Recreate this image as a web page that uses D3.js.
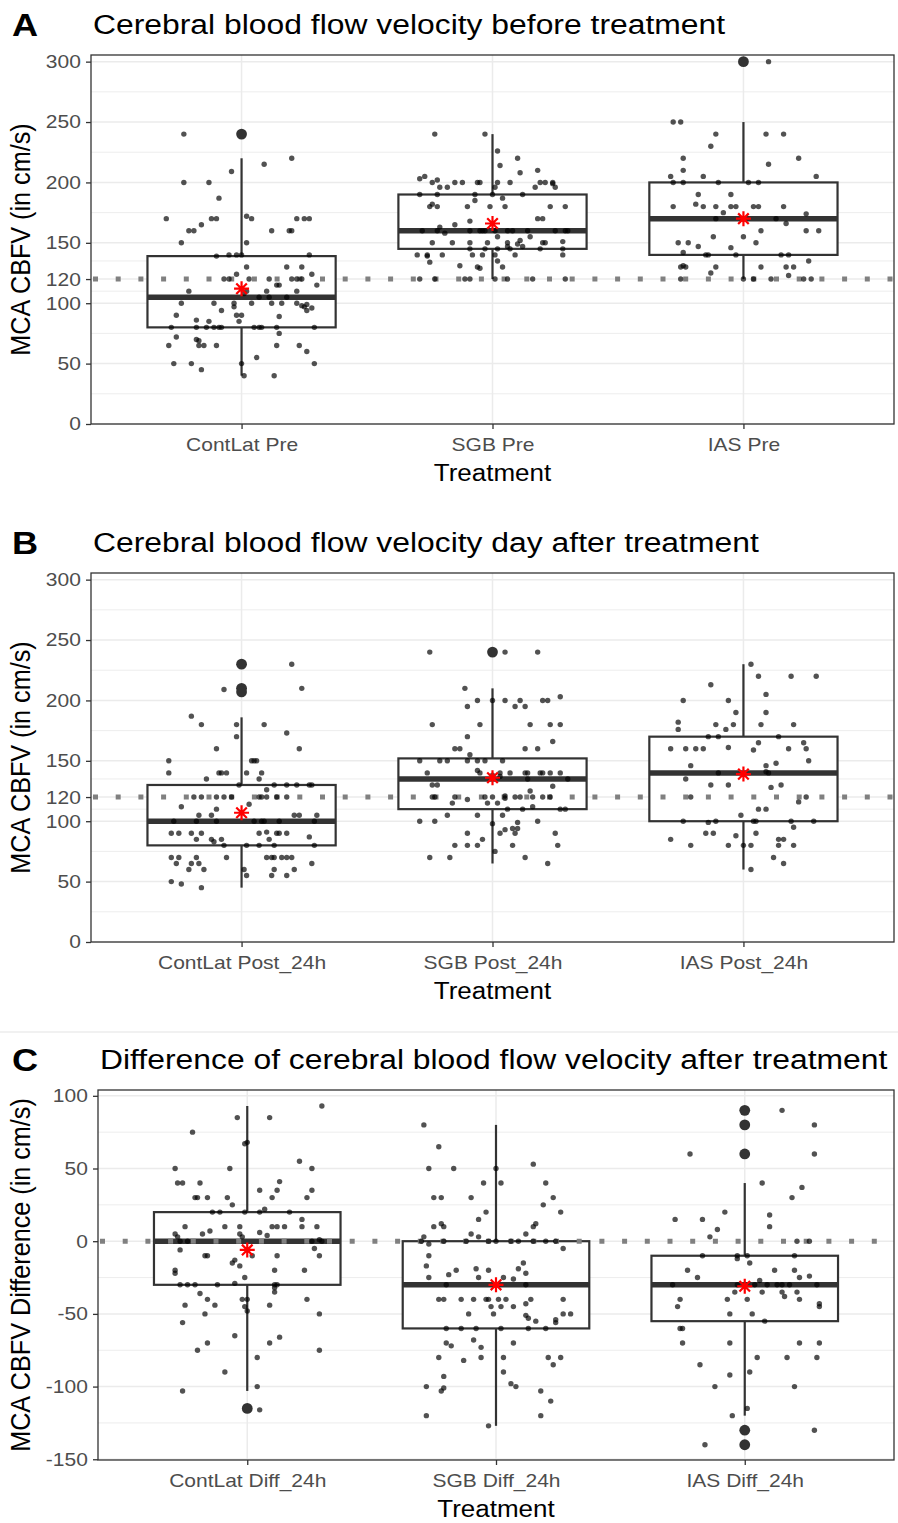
<!DOCTYPE html>
<html>
<head>
<meta charset="utf-8">
<script src="https://cdn.jsdelivr.net/npm/d3@7"></script>
<style>
  body { margin: 0; background: #fff; }
</style>
</head>
<body>
<div id="container"></div>
<script>
const WIDTH = 898;
const HEIGHT = 1523;
const FONT = '"Liberation Sans", Arial, Helvetica, sans-serif';
const STRETCH = 1.13; // the reference text is drawn a bit wide

// ---- data ----
const TAGS = ['A', 'B', 'C'];
const TITLES = [
  'Cerebral blood flow velocity before treatment',
  'Cerebral blood flow velocity day after treatment',
  'Difference of cerebral blood flow velocity after treatment'
];
const Y_TITLES = ['MCA CBFV (in cm/s)', 'MCA CBFV (in cm/s)', 'MCA CBFV Difference (in cm/s)'];
const X_TITLE = 'Treatment';

const CATS_A = ['ContLat Pre', 'SGB Pre', 'IAS Pre'];
const CATS_B = ['ContLat Post_24h', 'SGB Post_24h', 'IAS Post_24h'];
const CATS_C = ['ContLat Diff_24h', 'SGB Diff_24h', 'IAS Diff_24h'];

const TICKS_AB = [0, 50, 100, 120, 150, 200, 250, 300];
const MINOR_AB = [25, 75, 110, 135, 175, 225, 275];
const TICKS_C = [-150, -100, -50, 0, 50, 100];
const MINOR_C = [-125, -75, -25, 25, 75];
const REF_LINES = [120, 120, 0];

// box stats: [lower whisker, Q1, median, Q3, upper whisker]
const BOX_A = [[40, 80, 105, 139, 220], [120, 145, 160, 190, 240], [120, 140, 170, 200, 250]];
const BOX_B = [[45, 80, 100, 130, 186], [65, 110, 135, 152, 210], [60, 100, 140, 170, 230]];
const BOX_C = [[-103, -30, 0, 20, 93], [-127, -60, -30, 0, 80], [-120, -55, -30, -10, 40]];
const MEAN_A = [112, 166, 170];
const MEAN_B = [107, 136, 139];
const MEAN_C = [-6, -30, -31];
const OUTLIERS_A = [[240], [], [300]];
const OUTLIERS_B = [[230, 210, 207], [240], []];
const OUTLIERS_C = [[-115], [], [90, 80, 60, -130, -140]];

// jittered observations: [jitter (category units), value]
const PTS_A1 = [[-0.23,240],[0.20,220],[0.09,215],[-0.04,209],[-0.23,200],[-0.13,200],[-0.09,187],[-0.30,170],[-0.12,170],[-0.10,170],[0.02,172],[0.04,170],[0.22,170],[0.25,170],[0.27,170],[-0.16,165],[-0.21,160],[-0.19,160],[0.12,160],[0.19,160],[0.20,160],[-0.24,150],[0.02,150],[-0.10,139],[-0.05,140],[-0.02,140],[0.00,140],[0.27,140],[0.02,130],[0.18,130],[0.24,130],[-0.02,124],[0.28,124],[-0.07,120],[-0.05,120],[0.03,120],[0.11,120],[0.20,120],[0.22,120],[0.24,120],[0.14,115],[0.15,115],[0.30,115],[-0.21,110],[0.10,110],[0.22,110],[0.02,110],[0.01,108],[0.07,105],[0.11,105],[0.18,105],[-0.24,100],[-0.11,100],[-0.03,100],[0.04,100],[0.12,100],[0.16,100],[0.22,100],[0.24,98],[0.26,99],[0.25,97],[0.28,96],[0.26,94],[-0.03,97],[-0.08,94],[-0.02,90],[0.00,90],[-0.26,90],[0.15,89],[-0.18,86],[-0.13,85],[-0.01,85],[-0.28,80],[-0.18,80],[-0.14,80],[-0.11,80],[-0.09,80],[-0.08,80],[0.05,80],[0.07,80],[0.08,80],[0.14,80],[0.29,80],[0.15,75],[-0.26,72],[-0.18,70],[-0.17,69],[-0.29,65],[-0.17,65],[-0.15,65],[-0.10,65],[0.14,65],[0.23,65],[0.26,60],[0.06,55],[-0.27,50],[-0.20,50],[0.29,50],[0.00,50],[-0.16,45],[0.01,40],[0.13,40]];
const PTS_A2 = [[-0.23,240],[-0.03,240],[0.02,226],[0.10,220],[0.03,214],[0.18,210],[0.11,208],[-0.29,203],[-0.27,205],[-0.24,200],[-0.22,202],[-0.15,200],[-0.12,200],[-0.06,200],[-0.05,200],[0.02,200],[0.07,200],[0.19,200],[0.21,200],[0.24,200],[0.24,199],[-0.21,196],[-0.18,196],[0.01,196],[0.17,196],[0.25,196],[-0.29,190],[-0.22,190],[-0.07,190],[0.00,190],[0.12,190],[0.04,187],[-0.07,185],[-0.24,182],[-0.25,180],[-0.22,180],[-0.10,180],[-0.01,180],[0.05,180],[0.23,180],[0.29,180],[0.18,170],[0.20,170],[-0.09,168],[-0.15,165],[-0.21,163],[-0.28,160],[-0.22,160],[-0.19,158],[-0.09,160],[-0.05,160],[-0.04,160],[-0.03,160],[0.01,160],[0.06,160],[0.08,160],[0.14,160],[0.25,160],[0.29,160],[0.30,160],[0.02,155],[0.15,155],[-0.24,150],[-0.16,150],[-0.09,150],[-0.02,150],[0.06,150],[0.11,152],[0.10,149],[0.12,147],[0.20,150],[0.21,150],[0.28,151],[0.06,147],[0.07,145],[-0.09,145],[-0.03,145],[0.02,145],[0.19,145],[0.28,145],[-0.30,140],[-0.26,140],[-0.26,139],[-0.20,140],[-0.08,140],[-0.04,140],[0.01,140],[0.09,140],[0.28,140],[0.02,135],[-0.25,134],[-0.13,131],[-0.06,130],[-0.05,129],[0.04,130],[-0.29,120],[-0.23,120],[-0.11,120],[-0.09,120],[0.01,120],[0.06,120],[0.16,120],[0.29,120]];
const PTS_A3 = [[0.10,300],[-0.28,250],[-0.25,250],[-0.11,240],[0.09,240],[0.16,240],[-0.13,230],[-0.24,220],[0.22,220],[0.10,215],[-0.24,210],[-0.29,205],[-0.16,205],[0.29,205],[-0.28,200],[-0.24,200],[-0.10,200],[0.02,200],[0.06,200],[-0.18,190],[-0.05,190],[-0.28,180],[-0.19,182],[-0.16,180],[-0.11,180],[-0.05,180],[-0.03,180],[0.04,180],[0.06,180],[0.16,180],[-0.08,175],[0.25,174],[-0.11,170],[0.00,170],[0.13,170],[0.17,166],[0.07,160],[0.25,160],[0.30,160],[-0.12,155],[0.00,155],[-0.26,150],[-0.22,150],[-0.18,147],[0.05,150],[-0.24,142],[-0.05,146],[-0.15,140],[-0.14,140],[-0.03,140],[0.15,140],[0.18,140],[0.26,135],[-0.25,130],[-0.23,130],[-0.24,131],[-0.11,130],[0.07,130],[0.17,130],[0.20,130],[-0.13,125],[0.18,123],[-0.25,120],[0.00,120],[0.04,120],[0.11,120],[0.24,120],[0.27,120]];
const PTS_B1 = [[0.20,230],[0.24,210],[-0.07,209],[-0.20,187],[-0.16,180],[-0.02,180],[0.09,180],[0.18,173],[-0.02,170],[-0.10,160],[0.23,160],[-0.29,150],[0.04,150],[0.05,150],[0.06,150],[-0.29,140],[-0.09,140],[-0.08,140],[-0.06,140],[0.02,140],[0.08,140],[-0.14,135],[0.07,135],[-0.01,130],[0.13,130],[0.18,130],[0.22,130],[0.27,130],[0.28,130],[0.10,126],[-0.19,120],[-0.16,120],[-0.10,120],[-0.07,120],[-0.04,120],[0.07,120],[0.08,120],[0.10,120],[0.14,120],[0.18,120],[0.03,114],[-0.24,112],[-0.10,110],[-0.17,105],[-0.12,105],[0.21,105],[0.23,105],[0.30,105],[-0.27,100],[-0.18,100],[-0.10,100],[0.05,100],[0.08,100],[0.09,100],[0.15,100],[0.29,100],[-0.28,90],[-0.25,90],[-0.20,90],[-0.16,90],[0.07,90],[0.10,91],[0.14,90],[0.15,90],[0.18,90],[-0.18,85],[-0.12,85],[-0.08,85],[0.11,85],[0.27,87],[-0.11,83],[-0.07,80],[0.02,80],[0.07,80],[0.13,80],[0.29,80],[-0.28,70],[-0.25,70],[-0.18,70],[-0.06,70],[0.10,70],[0.12,70],[0.13,70],[0.16,70],[0.18,70],[0.20,70],[-0.26,65],[-0.20,65],[-0.17,65],[0.28,65],[-0.21,60],[-0.15,60],[0.01,60],[0.13,60],[0.21,60],[0.02,55],[0.12,55],[0.18,55],[-0.28,50],[-0.24,48],[-0.16,45]];
const PTS_B2 = [[-0.25,240],[0.05,240],[0.18,240],[-0.11,210],[0.27,203],[-0.06,200],[0.00,200],[0.05,200],[0.11,200],[0.20,200],[0.22,200],[-0.10,195],[0.09,195],[0.13,195],[-0.24,180],[-0.05,180],[0.15,180],[0.23,180],[0.27,180],[-0.10,170],[0.24,166],[-0.15,160],[-0.13,160],[0.13,160],[0.18,160],[-0.09,155],[-0.29,150],[-0.21,150],[-0.18,150],[-0.10,150],[-0.06,150],[-0.03,150],[0.04,150],[-0.26,140],[-0.06,142],[-0.05,140],[0.03,140],[0.07,140],[0.13,140],[0.14,140],[0.19,140],[0.20,140],[0.23,140],[0.27,140],[0.00,138],[0.03,137],[0.14,135],[0.30,135],[-0.24,130],[-0.22,130],[0.24,129],[0.15,125],[-0.24,120],[-0.23,120],[-0.15,120],[-0.10,118],[-0.03,120],[0.00,120],[0.05,119],[0.05,121],[0.09,120],[0.11,120],[0.16,120],[0.20,120],[0.23,120],[-0.16,115],[-0.02,115],[0.02,115],[0.06,110],[0.12,110],[0.16,112],[0.27,110],[0.29,110],[-0.18,105],[-0.06,105],[0.04,105],[-0.29,100],[-0.23,100],[0.18,100],[0.00,98],[0.10,99],[0.08,94],[0.10,94],[0.09,90],[0.05,93],[0.03,90],[-0.10,90],[0.25,90],[-0.04,85],[-0.15,80],[-0.10,80],[-0.06,80],[0.08,80],[0.26,80],[0.01,75],[-0.25,70],[-0.17,70],[0.13,70],[0.22,65]];
const PTS_B3 = [[0.03,230],[0.06,220],[0.19,220],[0.29,220],[-0.13,213],[0.09,205],[-0.24,200],[-0.06,200],[-0.03,190],[0.09,190],[-0.26,182],[-0.26,176],[-0.11,180],[-0.04,180],[0.07,180],[0.20,180],[-0.07,176],[-0.14,170],[-0.10,170],[0.14,170],[0.06,165],[0.24,165],[-0.29,160],[-0.23,160],[-0.19,160],[-0.16,160],[-0.06,161],[0.04,159],[0.18,160],[0.25,160],[0.26,150],[-0.21,146],[0.09,146],[0.13,148],[-0.10,140],[0.10,140],[0.09,141],[-0.23,135],[-0.13,130],[-0.06,130],[0.11,128],[0.15,130],[-0.21,120],[0.25,120],[0.22,116],[0.06,110],[0.09,110],[-0.01,105],[-0.24,100],[-0.14,99],[-0.11,100],[0.04,100],[0.05,100],[0.19,100],[0.28,100],[0.20,95],[-0.15,90],[-0.12,90],[0.05,90],[-0.03,88],[-0.29,85],[0.14,85],[0.16,85],[-0.21,80],[-0.06,80],[0.00,80],[0.03,80],[0.14,80],[0.20,80],[0.12,70],[0.16,65],[0.03,60]];
const PTS_C1 = [[0.30,93],[-0.04,85],[0.09,85],[-0.22,75],[0.00,68],[-0.01,67],[0.21,55],[-0.29,50],[-0.07,50],[0.26,50],[-0.28,40],[-0.26,40],[-0.19,40],[0.13,41],[0.05,35],[0.12,35],[0.26,35],[-0.21,30],[-0.20,30],[-0.16,30],[-0.08,30],[0.10,30],[0.24,30],[-0.06,25],[-0.11,20],[-0.14,20],[-0.01,20],[0.05,20],[0.07,22],[0.17,20],[0.22,15],[-0.25,10],[-0.18,5],[-0.15,7],[-0.09,10],[-0.03,10],[0.10,10],[0.12,10],[0.15,10],[0.22,10],[0.28,10],[-0.29,5],[-0.28,3],[-0.03,5],[-0.02,3],[0.05,6],[0.08,4],[-0.27,0],[-0.24,0],[0.26,0],[0.30,0],[0.29,1],[-0.27,-6],[0.27,-5],[-0.17,-10],[-0.16,-10],[0.02,-10],[0.12,-10],[0.29,-10],[-0.05,-13],[-0.06,-15],[-0.03,-17],[-0.29,-20],[-0.29,-22],[0.11,-20],[0.23,-20],[-0.01,-25],[-0.27,-30],[-0.24,-30],[-0.21,-30],[-0.12,-30],[-0.05,-29],[0.11,-30],[0.12,-30],[0.11,-32],[0.11,-35],[-0.19,-36],[-0.16,-40],[-0.02,-40],[0.00,-40],[0.24,-40],[-0.25,-44],[-0.13,-44],[0.09,-44],[-0.01,-45],[0.00,-48],[-0.17,-50],[0.29,-50],[-0.26,-56],[-0.05,-65],[0.13,-66],[-0.16,-70],[0.09,-70],[-0.20,-75],[0.29,-75],[0.04,-80],[-0.09,-90],[0.04,-100],[-0.26,-103],[0.05,-116]];
const PTS_C2 = [[-0.29,80],[-0.23,65],[-0.27,50],[-0.17,50],[0.00,50],[0.15,53],[-0.05,40],[0.02,40],[0.20,40],[-0.25,30],[-0.22,30],[-0.10,30],[0.23,30],[0.19,25],[-0.04,20],[-0.07,15],[0.26,20],[-0.25,10],[-0.22,12],[-0.21,10],[0.15,10],[0.16,12],[-0.29,3],[-0.10,5],[-0.07,3],[0.12,5],[-0.30,0],[-0.21,0],[-0.12,0],[-0.03,0],[0.00,0],[0.06,0],[0.09,0],[0.15,0],[0.20,0],[0.24,0],[-0.27,-2],[0.27,-5],[-0.27,-10],[-0.28,-17],[0.11,-15],[-0.27,-25],[-0.19,-23],[-0.16,-20],[-0.08,-19],[-0.07,-25],[-0.03,-20],[0.03,-25],[0.07,-26],[0.09,-19],[0.12,-22],[-0.20,-30],[0.12,-30],[-0.23,-40],[-0.21,-40],[-0.14,-40],[-0.09,-40],[-0.04,-40],[-0.03,-40],[0.01,-40],[0.04,-40],[0.12,-43],[0.14,-40],[0.27,-40],[-0.02,-45],[0.02,-45],[0.07,-45],[-0.11,-50],[-0.01,-50],[0.12,-51],[0.13,-53],[0.16,-55],[0.24,-54],[0.24,-56],[0.27,-50],[0.30,-50],[-0.20,-60],[-0.14,-60],[-0.08,-60],[0.02,-60],[0.13,-60],[0.20,-60],[-0.20,-70],[-0.18,-72],[-0.09,-68],[-0.06,-73],[0.07,-70],[-0.23,-80],[-0.13,-82],[-0.06,-80],[0.03,-80],[0.21,-80],[0.23,-85],[0.26,-80],[0.03,-90],[-0.21,-93],[0.06,-98],[0.08,-100],[-0.28,-100],[-0.21,-101],[-0.22,-103],[0.18,-103],[0.22,-110],[-0.28,-120],[0.18,-120],[-0.03,-127]];
const PTS_C3 = [[0.15,90],[0.28,80],[-0.22,60],[0.28,60],[0.07,40],[0.23,37],[0.19,30],[-0.08,20],[-0.28,15],[-0.17,15],[0.10,18],[-0.11,8],[0.10,10],[-0.14,3],[0.21,0],[0.26,0],[-0.17,-10],[-0.03,-10],[0.01,-10],[0.20,-10],[-0.03,-12],[0.02,-15],[-0.23,-20],[0.12,-20],[0.20,-20],[-0.19,-25],[0.22,-25],[0.26,-24],[-0.29,-30],[-0.03,-30],[0.04,-30],[0.06,-27],[0.09,-30],[0.13,-30],[0.15,-30],[0.18,-30],[0.29,-30],[-0.04,-35],[0.07,-35],[0.15,-35],[0.16,-38],[0.21,-35],[0.22,-40],[-0.26,-40],[-0.27,-45],[-0.07,-40],[0.01,-40],[0.30,-43],[0.30,-45],[-0.06,-50],[0.03,-50],[0.08,-55],[-0.26,-60],[-0.25,-60],[-0.25,-70],[-0.06,-70],[0.22,-70],[0.30,-70],[0.05,-80],[0.17,-80],[0.29,-80],[-0.18,-85],[-0.06,-92],[0.02,-90],[-0.12,-100],[0.20,-100],[0.01,-115],[-0.05,-120],[0.28,-130],[-0.16,-140]];

// ---- layout ----
const PANELS = [
  { top: 55, bottom: 424, left: 91, right: 894, domain: [0, 305.5] },
  { top: 573, bottom: 942, left: 91, right: 894, domain: [0, 305.5] },
  { top: 1090, bottom: 1460, left: 98, right: 894, domain: [-150.5, 104] }
];

const panelData = [
  { cats: CATS_A, ticks: TICKS_AB, minor: MINOR_AB, boxes: BOX_A, means: MEAN_A, outliers: OUTLIERS_A, points: [PTS_A1, PTS_A2, PTS_A3] },
  { cats: CATS_B, ticks: TICKS_AB, minor: MINOR_AB, boxes: BOX_B, means: MEAN_B, outliers: OUTLIERS_B, points: [PTS_B1, PTS_B2, PTS_B3] },
  { cats: CATS_C, ticks: TICKS_C, minor: MINOR_C, boxes: BOX_C, means: MEAN_C, outliers: OUTLIERS_C, points: [PTS_C1, PTS_C2, PTS_C3] }
];

const svg = d3.select('#container')
  .append('svg')
    .attr('width', WIDTH)
    .attr('height', HEIGHT)
    .style('display', 'block');

svg.append('rect').attr('width', WIDTH).attr('height', HEIGHT).attr('fill', '#fff');

// faint separator above panel C
svg.append('line')
   .attr('x1', 0).attr('x2', WIDTH)
   .attr('y1', 1032).attr('y2', 1032)
   .attr('stroke', '#ededed').attr('stroke-width', 1.5);

const stretchText = (sel, str, x, y, size, weight) => sel.append('text')
  .attr('transform', `translate(${x},${y}) scale(${STRETCH},1)`)
  .attr('font-family', FONT)
  .attr('font-size', size)
  .attr('font-weight', weight || 'normal')
  .attr('fill', '#000')
  .text(str);

const asterisk = r => {
  const p = d3.path();
  [0, 45, 90, 135].forEach(a => {
    const t = a * Math.PI / 180;
    p.moveTo(-r * Math.cos(t), -r * Math.sin(t));
    p.lineTo(r * Math.cos(t), r * Math.sin(t));
  });
  return p.toString();
};

const drawPanel = (p, d, i) => {
  const g = svg.append('g');
  const x = d3.scalePoint().domain(d.cats).range([p.left, p.right]).padding(0.6);
  const y = d3.scaleLinear().domain(p.domain).range([p.bottom, p.top]);
  const boxW = x.step() * 0.75;

  // grid
  g.selectAll('.minor').data(d.minor).join('line')
    .attr('x1', p.left).attr('x2', p.right)
    .attr('y1', v => y(v)).attr('y2', v => y(v))
    .attr('stroke', '#ebebeb').attr('stroke-width', 0.9);
  g.selectAll('.major').data(d.ticks).join('line')
    .attr('x1', p.left).attr('x2', p.right)
    .attr('y1', v => y(v)).attr('y2', v => y(v))
    .attr('stroke', '#ebebeb').attr('stroke-width', 1.5);
  g.selectAll('.vgrid').data(d.cats).join('line')
    .attr('x1', c => x(c)).attr('x2', c => x(c))
    .attr('y1', p.top).attr('y2', p.bottom)
    .attr('stroke', '#ebebeb').attr('stroke-width', 1.5);

  // boxplots
  d.cats.forEach((c, k) => {
    const [lo, q1, med, q3, hi] = d.boxes[k];
    const cx = x(c);
    const bg = g.append('g').attr('stroke', '#333');
    bg.append('line').attr('x1', cx).attr('x2', cx).attr('y1', y(hi)).attr('y2', y(q3)).attr('stroke-width', 2.2);
    bg.append('line').attr('x1', cx).attr('x2', cx).attr('y1', y(q1)).attr('y2', y(lo)).attr('stroke-width', 2.2);
    bg.append('rect')
      .attr('x', cx - boxW / 2).attr('width', boxW)
      .attr('y', y(q3)).attr('height', y(q1) - y(q3))
      .attr('fill', '#fff').attr('stroke-width', 2.2);
    bg.append('line')
      .attr('x1', cx - boxW / 2).attr('x2', cx + boxW / 2)
      .attr('y1', y(med)).attr('y2', y(med))
      .attr('stroke-width', 5.5);
    bg.selectAll('circle').data(d.outliers[k]).join('circle')
      .attr('cx', cx).attr('cy', v => y(v)).attr('r', 5.4)
      .attr('fill', '#333').attr('stroke', 'none');
  });

  // reference line
  g.append('line')
    .attr('x1', p.left).attr('x2', p.right)
    .attr('y1', y(REF_LINES[i])).attr('y2', y(REF_LINES[i]))
    .attr('stroke', '#808080').attr('stroke-width', 5)
    .attr('stroke-dasharray', '5,17.7')
    .attr('stroke-dashoffset', -2);

  // jittered points
  d.cats.forEach((c, k) => {
    g.append('g').selectAll('circle').data(d.points[k]).join('circle')
      .attr('cx', pt => x(c) + pt[0] * x.step())
      .attr('cy', pt => y(pt[1]))
      .attr('r', 2.7)
      .attr('fill', '#000')
      .attr('fill-opacity', 0.68);
  });

  // means
  g.selectAll('.mean').data(d.cats).join('path')
    .attr('d', asterisk(7.5))
    .attr('transform', (c, k) => `translate(${x(c)},${y(d.means[k])})`)
    .attr('stroke', '#ff0000').attr('stroke-width', 2.2).attr('fill', 'none');

  // border
  g.append('rect')
    .attr('x', p.left).attr('y', p.top)
    .attr('width', p.right - p.left).attr('height', p.bottom - p.top)
    .attr('fill', 'none').attr('stroke', '#333').attr('stroke-width', 1.3);

  // axes
  const styleAxis = ax => {
    ax.select('.domain').remove();
    ax.selectAll('.tick line').attr('stroke', '#333').attr('stroke-width', 1.3);
    ax.selectAll('.tick text')
      .attr('transform', `scale(${STRETCH},1)`)
      .attr('fill', '#4d4d4d')
      .attr('font-family', FONT)
      .attr('font-size', 18.6);
  };
  g.append('g')
    .attr('transform', `translate(${p.left},0)`)
    .call(d3.axisLeft(y).tickValues(d.ticks).tickSize(5).tickPadding(4).tickFormat(v => String(v)))
    .call(styleAxis);
  g.append('g')
    .attr('transform', `translate(0,${p.bottom})`)
    .call(d3.axisBottom(x).tickSize(5).tickPadding(9))
    .call(styleAxis);

  // titles
  stretchText(g, TAGS[i], 12, p.top - 19, 32, 'bold');
  stretchText(g, TITLES[i], p.left + 2, p.top - 21, 28.2);
  stretchText(g, X_TITLE, (p.left + p.right) / 2, p.bottom + 57, 23)
    .attr('text-anchor', 'middle');
  g.append('text')
    .attr('transform', `translate(30,${(p.top + p.bottom) / 2}) rotate(-90) scale(1,${STRETCH})`)
    .attr('font-family', FONT)
    .attr('font-size', 25.2)
    .attr('text-anchor', 'middle')
    .attr('fill', '#000')
    .text(Y_TITLES[i]);
};

PANELS.forEach((p, i) => drawPanel(p, panelData[i], i));
</script>
</body>
</html>
